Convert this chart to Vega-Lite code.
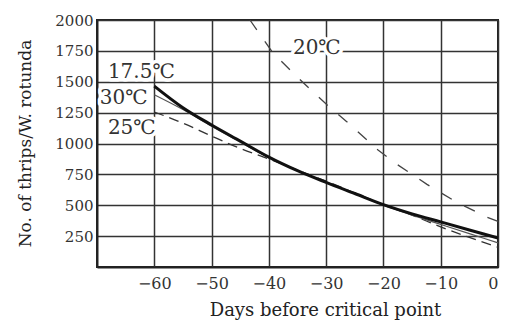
{
  "$schema": "https://vega.github.io/schema/vega-lite/v6.json",
  "width": 401,
  "height": 247,
  "autosize": {"type": "none"},
  "padding": {"left": 97, "top": 20, "right": 11, "bottom": 56},
  "background": "white",
  "config": {
    "view": {"stroke": "#222", "strokeWidth": 2},
    "font": "DejaVu Serif",
    "axis": {
      "grid": true, "gridColor": "#333", "gridWidth": 1.5, "gridOpacity": 1,
      "domainColor": "#222", "domainWidth": 2,
      "ticks": false, "labelOverlap": false,
      "labelFont": "DejaVu Serif", "labelColor": "#333", "labelFontSize": 15,
      "titleFont": "DejaVu Serif", "titleColor": "#222", "titleFontSize": 17, "titleFontWeight": "normal"
    }
  },
  "datasets": {
    "curves": [
      {"temp": "17.5", "day": -60, "n": 1465}, {"temp": "17.5", "day": -55, "n": 1290}, {"temp": "17.5", "day": -50, "n": 1150},
      {"temp": "17.5", "day": -45, "n": 1020}, {"temp": "17.5", "day": -40, "n": 890}, {"temp": "17.5", "day": -35, "n": 780},
      {"temp": "17.5", "day": -30, "n": 685}, {"temp": "17.5", "day": -25, "n": 595}, {"temp": "17.5", "day": -20, "n": 505},
      {"temp": "17.5", "day": -15, "n": 430}, {"temp": "17.5", "day": -10, "n": 365}, {"temp": "17.5", "day": -5, "n": 300},
      {"temp": "17.5", "day": 0, "n": 235},
      {"temp": "30", "day": -60, "n": 1395}, {"temp": "30", "day": -55, "n": 1275}, {"temp": "30", "day": -50, "n": 1140},
      {"temp": "30", "day": -45, "n": 1010}, {"temp": "30", "day": -40, "n": 885}, {"temp": "30", "day": -35, "n": 780},
      {"temp": "30", "day": -30, "n": 685}, {"temp": "30", "day": -25, "n": 595}, {"temp": "30", "day": -20, "n": 500},
      {"temp": "30", "day": -15, "n": 420}, {"temp": "30", "day": -10, "n": 345}, {"temp": "30", "day": -5, "n": 270},
      {"temp": "30", "day": 0, "n": 195},
      {"temp": "25", "day": -60, "n": 1255}, {"temp": "25", "day": -55, "n": 1165}, {"temp": "25", "day": -50, "n": 1060},
      {"temp": "25", "day": -45, "n": 960}, {"temp": "25", "day": -40, "n": 875}, {"temp": "25", "day": -35, "n": 785},
      {"temp": "25", "day": -30, "n": 695}, {"temp": "25", "day": -25, "n": 600}, {"temp": "25", "day": -20, "n": 505},
      {"temp": "25", "day": -15, "n": 420}, {"temp": "25", "day": -10, "n": 325}, {"temp": "25", "day": -5, "n": 240},
      {"temp": "25", "day": 0, "n": 160},
      {"temp": "20", "day": -43.3, "n": 2000}, {"temp": "20", "day": -39.3, "n": 1734}, {"temp": "20", "day": -34.9, "n": 1532},
      {"temp": "20", "day": -29.9, "n": 1315}, {"temp": "20", "day": -26.4, "n": 1177}, {"temp": "20", "day": -21, "n": 950},
      {"temp": "20", "day": -17.6, "n": 830}, {"temp": "20", "day": -12.4, "n": 669}, {"temp": "20", "day": -7.2, "n": 524},
      {"temp": "20", "day": -1.9, "n": 403}, {"temp": "20", "day": 0, "n": 370}
    ],
    "labels": [
      {"label": "17.5℃", "day": -68.1, "n": 1579},
      {"label": "30℃", "day": -69.5, "n": 1370},
      {"label": "25℃", "day": -68.1, "n": 1126},
      {"label": "20℃", "day": -35.8, "n": 1773}
    ]
  },
  "layer": [
    {
      "data": {"name": "curves"},
      "transform": [{"filter": "datum.temp === '20'"}],
      "mark": {"type": "line", "color": "#444", "strokeWidth": 1.3, "strokeDash": [12, 14]},
      "encoding": {
        "x": {"field": "day", "type": "quantitative", "scale": {"domain": [-70, 0], "nice": false},
          "axis": {"values": [-60, -50, -40, -30, -20, -10, 0], "tickCount": 20, "labelPadding": 8, "labelFontSize": 16,
            "title": "Days before critical point", "titleFontSize": 18, "titleX": 228, "titleY": 48, "titleBaseline": "alphabetic", "titleAnchor": null}},
        "y": {"field": "n", "type": "quantitative", "scale": {"domain": [0, 2000], "nice": false},
          "axis": {"values": [250, 500, 750, 1000, 1250, 1500, 1750, 2000], "tickCount": 20, "format": "d", "labelPadding": 4,
            "title": "No. of thrips/W. rotunda", "titleX": -72, "titleY": 123, "titleBaseline": "middle", "titleAngle": -90}}
      }
    },
    {
      "data": {"name": "curves"},
      "transform": [{"filter": "datum.temp === '25'"}],
      "mark": {"type": "line", "color": "#333", "strokeWidth": 1.3, "strokeDash": [10, 6], "interpolate": "monotone"},
      "encoding": {"x": {"field": "day", "type": "quantitative"}, "y": {"field": "n", "type": "quantitative"}}
    },
    {
      "data": {"name": "curves"},
      "transform": [{"filter": "datum.temp === '30'"}],
      "mark": {"type": "line", "color": "#555", "strokeWidth": 1.2, "interpolate": "monotone"},
      "encoding": {"x": {"field": "day", "type": "quantitative"}, "y": {"field": "n", "type": "quantitative"}}
    },
    {
      "data": {"name": "curves"},
      "transform": [{"filter": "datum.temp === '17.5'"}],
      "mark": {"type": "line", "color": "#111", "strokeWidth": 3, "interpolate": "monotone"},
      "encoding": {"x": {"field": "day", "type": "quantitative"}, "y": {"field": "n", "type": "quantitative"}}
    },
    {
      "data": {"name": "labels"},
      "mark": {"type": "text", "align": "left", "baseline": "middle", "font": "DejaVu Serif", "fontSize": 20, "color": "white", "stroke": "white", "strokeWidth": 7, "strokeJoin": "round"},
      "encoding": {
        "x": {"field": "day", "type": "quantitative"},
        "y": {"field": "n", "type": "quantitative"},
        "text": {"field": "label"}
      }
    },
    {
      "data": {"name": "labels"},
      "mark": {"type": "text", "align": "left", "baseline": "middle", "font": "DejaVu Serif", "fontSize": 20, "color": "#333"},
      "encoding": {
        "x": {"field": "day", "type": "quantitative"},
        "y": {"field": "n", "type": "quantitative"},
        "text": {"field": "label"}
      }
    }
  ]
}
